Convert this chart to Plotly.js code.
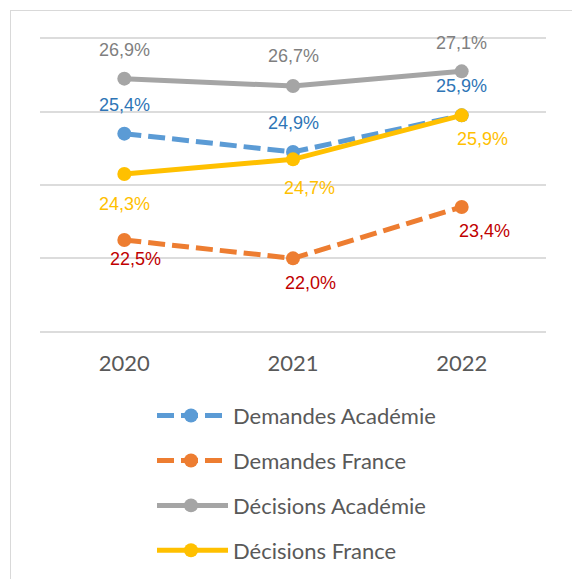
<!DOCTYPE html>
<html>
<head>
<meta charset="utf-8">
<script src="https://cdn.plot.ly/plotly-3.0.1.min.js"></script>
<style>
  html, body { margin: 0; padding: 0; background: #fff; overflow: hidden; }
  #wrap { position: relative; width: 572px; height: 579px; }
  #chart { width: 572px; height: 579px; }
  #frame { position: absolute; left: 10px; top: 10px; width: 620px; height: 620px;
           border: 1.5px solid #D9D9D9; pointer-events: none; box-sizing: border-box; }
</style>
</head>
<body>
<div id="wrap"><div id="chart"></div><div id="frame"></div></div>
<script>
// ---- data ----
const years = ["2020", "2021", "2022"];
const seriesNames = ["Demandes Académie", "Demandes France", "Décisions Académie", "Décisions France"];
const demandesAcademie = [25.4, 24.9, 25.9];
const demandesFrance   = [22.5, 22.0, 23.4];
const decisionsAcademie = [26.9, 26.7, 27.1];
const decisionsFrance   = [24.3, 24.7, 25.9];

// ---- styles ----
const W = 572, H = 579;
const M = { l: 40, r: 26, t: 30.7, b: 239.7 };
const lineColors  = ["#5B9BD5", "#ED7D31", "#A5A5A5", "#FFC000"];
const labelColors = ["#2E75B6", "#C00000", "#7F7F7F", "#FFC000"];
const dashes = ["17px,7px", "17px,7px", "solid", "solid"];
// label offsets (px, right / down) per series per point
const labelOffsets = [
  [[0, -29], [0, -29], [0, -29]],
  [[11, 19], [17, 25], [23, 24]],
  [[0, -29], [0, -30], [0, -28]],
  [[0, 30], [16, 29], [21, 24]]
];
const allValues = [demandesAcademie, demandesFrance, decisionsAcademie, decisionsFrance];

const traces = allValues.map((vals, i) => ({
  type: "scatter", mode: "lines+markers",
  x: years, y: vals, name: seriesNames[i],
  line: { color: lineColors[i], width: 5, dash: dashes[i] },
  marker: { color: lineColors[i], size: 14 },
  hoverinfo: "skip", showlegend: false
}));

const annotations = [];
allValues.forEach((vals, i) => {
  vals.forEach((v, j) => {
    annotations.push({
      x: j, y: v, xref: "x", yref: "y",
      text: v.toFixed(1).replace(".", ",") + "%",
      showarrow: false,
      xshift: labelOffsets[i][j][0], yshift: -labelOffsets[i][j][1],
      font: { family: "Liberation Sans, Arial, sans-serif", size: 18, color: labelColors[i] }
    });
  });
});

// manual legend (pixel -> paper helpers)
const pw = W - M.l - M.r, ph = H - M.t - M.b;
const px = p => (p - M.l) / pw;
const py = p => (H - M.b - p) / ph;
const shapes = [];
const legendRows = [416, 461, 506, 551];
seriesNames.forEach((n, i) => {
  const yy = legendRows[i];
  shapes.push({ type: "line", xref: "paper", yref: "paper",
    x0: px(157), x1: px(228), y0: py(yy), y1: py(yy),
    line: { color: lineColors[i], width: 5, dash: dashes[i] } });
  shapes.push({ type: "circle", xref: "paper", yref: "paper",
    x0: px(184), x1: px(198), y0: py(yy - 7), y1: py(yy + 7),
    fillcolor: lineColors[i], line: { width: 0 } });
  annotations.push({ xref: "paper", yref: "paper", x: px(231), y: py(yy),
    xanchor: "left", yanchor: "middle", showarrow: false, text: n,
    font: { family: "Lato, Carlito, Calibri, sans-serif", size: 22, color: "#595959" } });
});

const layout = {
  width: W, height: H, margin: M,
  paper_bgcolor: "#fff", plot_bgcolor: "#fff",
  showlegend: false,
  xaxis: { type: "category", range: [-0.5, 2.5], autorange: false,
    showgrid: false, zeroline: false, showline: false,
    ticks: "", ticklabelstandoff: 9,
    tickfont: { family: "Lato, Carlito, Calibri, sans-serif", size: 22, color: "#595959" } },
  yaxis: { range: [19.8, 28.2], autorange: false, tick0: 20, dtick: 2,
    showticklabels: false, ticks: "",
    gridcolor: "#DCDCDC", gridwidth: 2, zeroline: false, showline: false },
  annotations, shapes
};

Plotly.newPlot("chart", traces, layout, { staticPlot: true, displayModeBar: false });
</script>
</body>
</html>
